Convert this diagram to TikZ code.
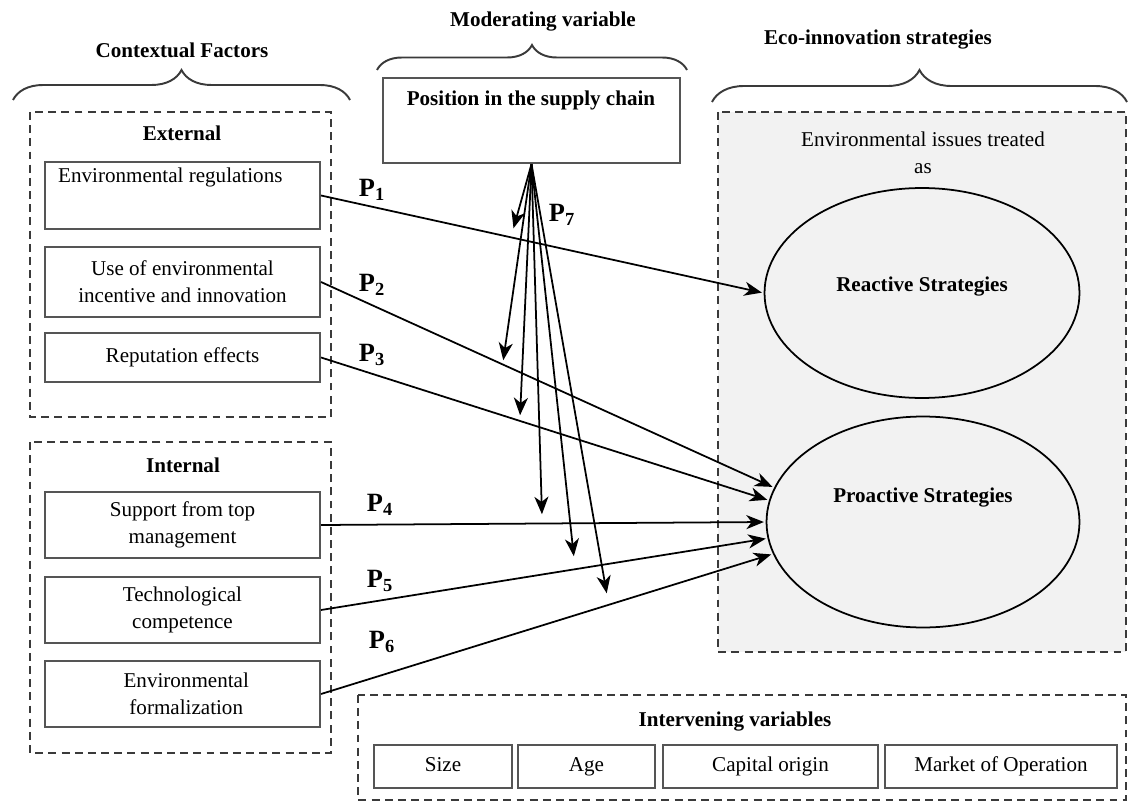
\documentclass[tikz,border=0pt]{standalone}
\usepackage{fontspec}
\setmainfont{Liberation Serif}
\usepackage{xcolor}
\usepackage{tikz}
\usetikzlibrary{arrows.meta,shapes.geometric,decorations.pathreplacing,positioning}
\definecolor{panelgray}{HTML}{F2F2F2}
\definecolor{framecolor}{HTML}{3A3A3A}
\definecolor{boxcolor}{HTML}{555555}

\begin{document}
\begin{tikzpicture}[x=0.02cm, y=-0.02cm,
  font=\fontsize{12}{15.4}\selectfont,
  factor/.style={draw=boxcolor, line width=1.2pt, rectangle, align=center, inner sep=0pt},
  varbox/.style={factor, minimum height=0.86cm, text height=1.6ex, text depth=0.4ex},
  group/.style={draw=framecolor, line width=1.1pt, dash pattern=on 4.5pt off 3pt},
  curly/.style={draw=framecolor, line width=1.1pt, decorate, decoration={brace, amplitude=#1}},
  title/.style={font=\fontsize{12}{15.4}\selectfont\bfseries},
  plabel/.style={font=\fontsize{15}{17}\selectfont\bfseries},
  link/.style={-{Stealth[length=10pt,width=8pt,inset=3pt]}, line width=1pt, shorten >=1pt},
]
\useasboundingbox (0,0) rectangle (1129,804);%
% headings and braces
\node[title] (ctxtitle) at (182,50) {Contextual Factors};%
\node[title] (modtitle) at (543,22) {Moderating variable};%
\node[title] (ecotitle) at (878,40) {Eco-innovation strategies};%
\draw[curly=0.6cm] (13,100) -- (350,100);%
\draw[curly=0.5cm] (377,70) -- (687,70);%
\draw[curly=0.64cm] (712,102) -- (1127,102);%
% dashed groups
\draw[group] (30,112) rectangle (331,417);%
\draw[group] (30,442) rectangle (331,753);%
\draw[group, fill=panelgray] (718,112) rectangle (1126,652);%
\draw[group] (358,695) rectangle (1126,800);%
\node[title] (external) at (182,133) {External};%
\node[title] (internal) at (183,465) {Internal};%
% contextual factors
\node[factor, minimum width=5.5cm, minimum height=1.34cm] (regs) at (182.5,195.5) {};%
\node[anchor=west] (regstext) at (52,177) {Environmental regulations};%
\node[factor, minimum width=5.5cm, minimum height=1.4cm] (incent) at (182.5,282) {Use of environmental\\incentive and innovation};%
\node[factor, minimum width=5.5cm, minimum height=0.98cm] (reput) at (182.5,357.5) {Reputation effects};%
\node[factor, minimum width=5.5cm, minimum height=1.32cm] (topmgmt) at (182.5,525) {Support from top\\management};%
\node[factor, minimum width=5.5cm, minimum height=1.32cm] (techcomp) at (182.5,610) {Technological\\competence};%
\node[factor, minimum width=5.5cm, minimum height=1.32cm] (formal) at (182.5,694) {\hspace*{0.15cm}Environmental\\\hspace*{0.15cm}formalization};%
% moderating variable
\node[factor, minimum width=5.94cm, minimum height=1.7cm] (supply) at (531.5,120.5) {};%
\node[title] (supplytext) at (531,100) {Position in the supply chain};%
% strategies
\node[align=center] (issues) at (923,153) {Environmental issues treated\\as};%
\node[ellipse, draw=black, line width=1pt, minimum width=6.3cm, minimum height=4.2cm] (reactive) at (922,293) {};%
\node[title] (reactivetext) at (922,287) {Reactive Strategies};%
\node[ellipse, draw=black, line width=1pt, minimum width=6.26cm, minimum height=4.22cm] (proactive) at (923,522) {};%
\node[title] (proactivetext) at (923,498) {Proactive Strategies};%
% intervening variables
\node[title] (intertitle) at (735,722) {Intervening variables};%
\node[varbox, minimum width=2.76cm] (size) at (443,766.5) {Size};%
\node[varbox, minimum width=2.74cm] (age) at (586.5,766.5) {Age};%
\node[varbox, minimum width=4.3cm] (capital) at (770.5,766.5) {Capital origin};%
\node[varbox, minimum width=4.64cm] (market) at (1001,766.5) {Market of Operation};%
% propositions
\draw[link] (regs.east) -- (reactive.west);%
\draw[link] (incent.east) -- (proactive.167);%
\draw[link] (reput.east) -- (proactive.172);%
\draw[link] (topmgmt.east) -- (proactive.180);%
\draw[link] (techcomp.east) -- (proactive.186);%
\draw[link] (formal.east) -- (proactive.192);%
\node[plabel] (p1) at (372,190) {P\textsubscript{1}};%
\node[plabel] (p2) at (372,285) {P\textsubscript{2}};%
\node[plabel] (p3) at (372,355) {P\textsubscript{3}};%
\node[plabel] (p4) at (380,505) {P\textsubscript{4}};%
\node[plabel] (p5) at (380,581) {P\textsubscript{5}};%
\node[plabel] (p6) at (382,642) {P\textsubscript{6}};%
\node[plabel] (p7) at (562,215) {P\textsubscript{7}};%
% moderation arrows
\foreach \mx/\my [count=\i] in {513/230,503/362,520/417,542/516,574/558,607/595}
  \coordinate (mod\i) at (\mx,\my);%
\foreach \i in {1,...,6}
  \draw[link] (supply.south) -- (mod\i);%
\end{tikzpicture}
\end{document}
